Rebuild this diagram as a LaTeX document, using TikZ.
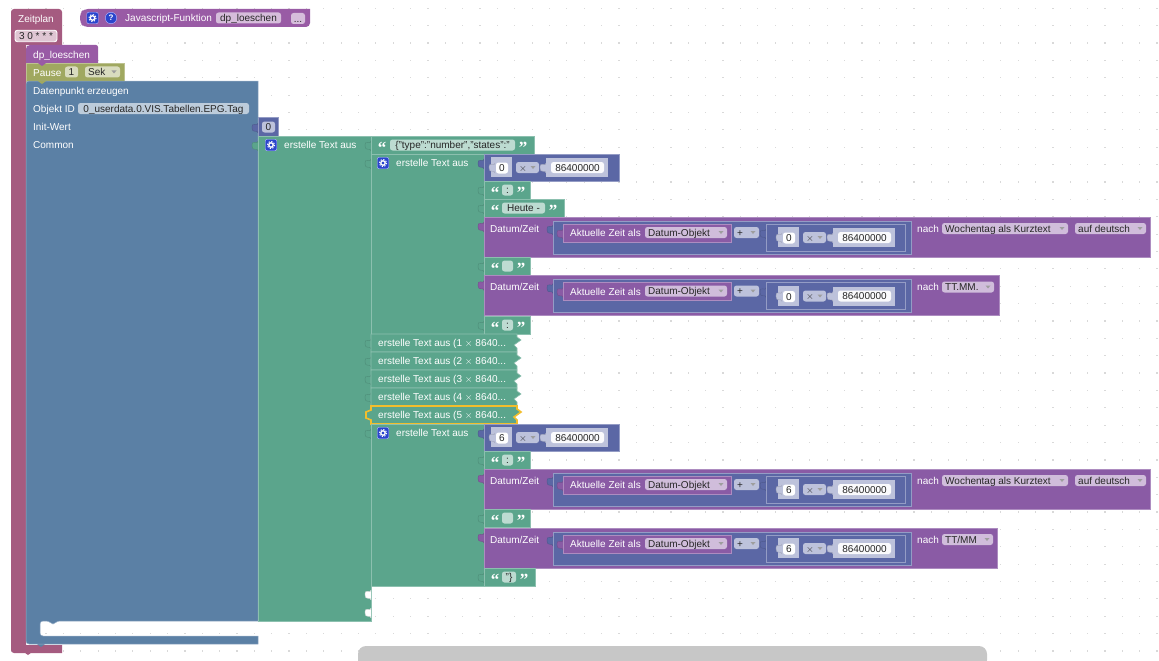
\documentclass[tikz,border=0pt]{standalone}
\usepackage{fontspec}
\setmainfont{Liberation Sans}
\newfontfamily\QuoteFont{Liberation Serif}
\usepackage{tikz}
\definecolor{zeitplan}{HTML}{A55B80}
\definecolor{funktion}{HTML}{995BA5}
\definecolor{pause}{HTML}{A0A860}
\definecolor{vorlage}{HTML}{5B80A5}
\definecolor{textgruen}{HTML}{5BA58C}
\definecolor{rechnen}{HTML}{5B67A5}
\definecolor{datum}{HTML}{8A5BA5}
\definecolor{auswahl}{HTML}{F2BE2C}
\definecolor{symbol}{HTML}{2A45CC}

% puzzle piece on the left of a block
\newcommand{\PuzzleTab}[3]{
	\draw[fill=#3,draw=#3!85!black,line width=.4pt] (#1,#2+3) .. controls (#1,#2+8) and (#1-6,#2) .. (#1-6,#2+8) .. controls (#1-6,#2+14) and (#1,#2+9) .. (#1,#2+13);
}
% small bump under a statement
\newcommand{\BlockBump}[3]{
	\fill[#3] (#1-4,#2) .. controls (#1-2,#2+1) and (#1-1,#2+3) .. (#1,#2+3) .. controls (#1+1,#2+3) and (#1+2,#2+1) .. (#1+4,#2) -- cycle;
}
\newcommand{\PlainField}[6]{
	\node[FieldBox,fill=#6,minimum width={(#3-(#2))*1pt}] (#1) at ({(#2+#3)/2},#4) {#5};
}
\newcommand{\DropField}[6]{
	\node[FieldBox,fill=#6,minimum width={(#3-(#2))*1pt}] (#1) at ({(#2+#3)/2},#4) {};
	\node[BlockLabel,text=black!85,anchor=west] (#1-text) at (#2+3,#4) {#5};
	\fill[black!38] (#3-8.5,#4-1.5) -- (#3-3.5,#4-1.5) -- (#3-6,#4+1.5) -- cycle;
}
\newcommand{\GearIcon}[3]{
	\node[IconBox] (#1) at (#2,#3) {};
	\draw[white,line width=1.3pt] (#2,#3) circle (2.2);
	\draw[white,line width=1pt,dash pattern=on 1.3pt off 1.5pt] (#2,#3) circle (3.6);
}
\newcommand{\QuoteBlock}[7]{
	\PuzzleTab{#2}{#4+2}{textgruen}
	\filldraw[GreenBlock] (#2,#4) rectangle (#3,#4+18);
	\node[QuoteMark] (#1-left) at (#2+11,#4+12) {“};
	\PlainField{#1}{#5}{#6}{#4+9}{#7}{FieldGreen}
	\node[QuoteMark] (#1-right) at (#6+8,#4+12) {”};
}
% the 0 x 86400000 group
\newcommand{\MalGruppe}[5]{
	\fill[FieldValue] (#2,#3) rectangle (#2+21,#3+20);
	\PuzzleTab{#2+4}{#3+3}{FieldValue}
	\PlainField{#1-a}{#2+5}{#2+17}{#3+11}{#4}{white}
	\DropField{#1-b}{#2+25}{#2+48}{#3+10.5}{$\times$}{FieldValue}
	\fill[FieldValue] (#2+55,#3+1) rectangle (#2+117,#3+20);
	\PuzzleTab{#2+55}{#3+3}{FieldValue}
	\PlainField{#1-c}{#2+60}{#2+113}{#3+10.5}{#5}{white!92!FieldValue}
}
\newcommand{\DatumBlock}[5]{
	\def\DatumY{#2}
	\PuzzleTab{484}{#2+2}{datum}
	\filldraw[PurpleBlock] (484,#2) rectangle (#4,#2+40);
	\node[BlockLabel] (#1-datum) at (490,#2+11.5) {Datum/Zeit};
	\PuzzleTab{553}{#2+5}{rechnen}
	\filldraw[MathBlock] (553,#2+4) rectangle (911,#2+37);
	\PuzzleTab{563}{#2+9}{datum}
	\filldraw[PurpleBlock] (563,#2+7) rectangle (731,#2+25);
	\node[BlockLabel] (#1-zeit) at (570,#2+16) {Aktuelle Zeit als};
	\DropField{#1-form}{645}{727}{#2+15.5}{Datum-Objekt}{FieldPurple}
	\DropField{#1-plus}{734}{759}{#2+15.5}{+}{FieldValue}
	\PuzzleTab{766}{#2+9}{rechnen}
	\filldraw[MathBlock] (766,#2+7) rectangle (905,#2+34);
	\MalGruppe{#1-mal}{778}{#2+10}{#3}{86400000}
	\node[BlockLabel] (#1-nach) at (917,#2+11.5) {nach};
	#5
}

\begin{document}
\begin{tikzpicture}[
		x=1pt,y=-1pt,
		BlockLabel/.style={anchor=west,inner sep=0pt,text height=7.2pt,text depth=0pt,text=white,font=\fontsize{10}{12}\selectfont},
		FieldBox/.style={inner sep=0pt,minimum height=11pt,text height=7.2pt,text depth=0pt,rounded corners=2.5pt,text=black!85,font=\fontsize{10}{12}\selectfont},
		QuoteMark/.style={inner sep=0pt,text=white,font=\QuoteFont\bfseries\fontsize{17}{17}\selectfont},
		IconBox/.style={minimum size=11.5pt,inner sep=0pt,rounded corners=2pt,fill=symbol,draw=white!70!blue,line width=.4pt},
		GreenBlock/.style={fill=textgruen,draw=textgruen!70!white,line width=.6pt},
		PurpleBlock/.style={fill=datum,draw=datum!70!white,line width=.6pt},
		MathBlock/.style={fill=rechnen,draw=rechnen!65!white,line width=.6pt},
		]
		\useasboundingbox (0,0) rectangle (1159,661);
		\colorlet{FieldGreen}{textgruen!40!white}
		\colorlet{FieldPurple}{datum!40!white}
		\colorlet{FieldValue}{rechnen!40!white}
		\colorlet{FieldFunktion}{funktion!40!white}
		
		% workspace dots
		\foreach \i in {0,...,66}
			\foreach \j in {0,...,37}
				\fill[black!15] (11.3+\i*17.36-.6,8.3+\j*17.37-.6) rectangle ++(1.2,1.2);
		
		\fill[black!22,rounded corners=8pt] (358,668) -- (358,646) -- (987,646) -- (987,668) -- cycle;
		
		% hat block with its rail
		\BlockBump{28}{652}{zeitplan}
		\fill[zeitplan,rounded corners=3pt] (11,9) -- (62,9) [sharp corners] -- (62,45) -- (26,45) -- (26,645) -- (62,645) -- (62,653) [rounded corners=3pt] -- (11,653) -- cycle;
		\node[BlockLabel] (zeitplan) at (18,18.5) {Zeitplan};
		\node[FieldBox,fill=zeitplan!35!white,draw=white,line width=.9pt,minimum width=42pt,minimum height=11.5pt] (cron) at (36,36) {3 0 * * *};
		
		% function definition on top
		\fill[funktion,rounded corners=4pt] (310,9) -- (84,9) -- (80,13) -- (80,23) -- (84,27) -- (310,27) [sharp corners] -- cycle;
		\GearIcon{icongear}{92.5}{18}
		\node[circle,minimum size=11.5pt,inner sep=0pt,fill=symbol,draw=white!70!blue,line width=.4pt,text=white,font=\bfseries\fontsize{8}{8}\selectfont] (iconhelp) at (111,18) {?};
		\node[BlockLabel] (funktion) at (125,18) {Javascript-Funktion};
		\PlainField{dpname}{216}{281}{18}{dp\_loeschen}{FieldFunktion}
		\node[FieldBox,fill=FieldFunktion,minimum width=14pt] (dots) at (298,18.5) {...};
		
		% statements
		\BlockBump{42}{62.5}{funktion}
		\fill[funktion,rounded corners=2pt] (26,63) -- (26,47) -- (28,45) -- (98,45) [sharp corners] -- (98,63) -- cycle;
		\node[BlockLabel] (dploeschen) at (33,54.5) {dp\_loeschen};
		\filldraw[fill=pause,draw=pause!70!white,line width=.5pt] (26,63) rectangle (124,81);
		\BlockBump{42}{63}{funktion}
		\node[BlockLabel] (pause) at (33,72.5) {Pause};
		\PlainField{pausewert}{65}{78}{72}{1}{pause!40!white}
		\DropField{pausesek}{85}{120}{72}{Sek}{pause!40!white}
		
		\BlockBump{41}{644}{vorlage}
		\filldraw[fill=vorlage,draw=vorlage!65!white,line width=.5pt] (26,81) -- (258,81) -- (258,621) -- (60,621) .. controls (56,621) and (55,624) .. (53,624) .. controls (51,624) and (50,621) .. (46,621) [rounded corners=3pt] -- (40,621) -- (40,636) [sharp corners] -- (258,636) -- (258,644) -- (30,644) [rounded corners=3pt] -- (26,644) -- cycle;
		\BlockBump{42}{81}{pause}
		\node[BlockLabel] (erzeugen) at (33,90.5) {Datenpunkt erzeugen};
		\node[BlockLabel] (objektid) at (33,108.5) {Objekt ID};
		\PlainField{objektwert}{78}{249}{108.5}{0\_userdata.0.VIS.Tabellen.EPG.Tag}{vorlage!40!white}
		\node[BlockLabel] (initwert) at (33,126.5) {Init-Wert};
		\node[BlockLabel] (common) at (33,144.5) {Common};
		
		\PuzzleTab{258}{120}{rechnen}
		\filldraw[MathBlock] (258,117) rectangle (278,136);
		\PlainField{nullwert}{262}{275}{127}{0}{FieldValue}
		
		% outer text block
		\PuzzleTab{258}{138}{textgruen}
		\filldraw[GreenBlock] (258,136) rectangle (371,621);
		\GearIcon{gearaussen}{271}{145}
		\node[BlockLabel] (textaussen) at (284,144.5) {erstelle Text aus};
		\PuzzleTab{371}{587}{white}
		\PuzzleTab{371}{605}{white}
		
		\QuoteBlock{kopf}{371}{534}{136}{390}{515}{\{"type":"number","states":"}
		
		% first inner text block
		\PuzzleTab{371}{156}{textgruen}
		\filldraw[GreenBlock] (371,154) rectangle (484,335);
		\GearIcon{gearerst}{383}{163}
		\node[BlockLabel] (texterst) at (396,162.5) {erstelle Text aus};
		
		\PuzzleTab{484}{156}{rechnen}
		\filldraw[MathBlock] (484,154) rectangle (619,181);
		\MalGruppe{malerst}{491}{157}{0}{86400000}
		\QuoteBlock{trennerst}{484}{530}{181}{502}{513}{:}
		\QuoteBlock{heute}{484}{564}{199}{502}{545}{Heute -}
		\DatumBlock{datumeins}{217}{0}{1150}{
			\DropField{datumeins-tag}{942}{1068}{\DatumY+11.5}{Wochentag als Kurztext}{FieldPurple}
			\DropField{datumeins-lang}{1075}{1146}{\DatumY+11.5}{auf deutsch}{FieldPurple}
		}
		\QuoteBlock{leererst}{484}{530}{257}{502}{513}{}
		\DatumBlock{datumzwei}{275.5}{0}{999}{
			\DropField{datumzwei-tag}{942}{994}{\DatumY+11.5}{TT.MM.}{FieldPurple}
		}
		\QuoteBlock{schlusserst}{484}{530}{316}{502}{513}{:}
		
		% collapsed blocks
		\foreach \n/\ytop in {1/334,2/352,3/370,4/388}{
			\PuzzleTab{371}{\ytop+2}{textgruen}
			\filldraw[GreenBlock] (371,\ytop) -- (517,\ytop) -- (517,\ytop+3) -- (521,\ytop+6) -- (514,\ytop+11) -- (517,\ytop+14) -- (517,\ytop+18) -- (371,\ytop+18) -- cycle;
			\node[BlockLabel] (zu\n) at (378,\ytop+9) {erstelle Text aus (\n\ $\times$ 8640...};
		}
		
		% the selected one
		\PuzzleTab{371}{408}{textgruen}
		\filldraw[fill=textgruen,draw=auswahl,line width=1.6pt] (371,406) -- (517,406) -- (517,409) -- (521,412) -- (514,417) -- (517,420) -- (517,424) -- (371,424) -- (371,420) -- (366,418) -- (366,412) -- (371,410) -- cycle;
		\node[BlockLabel] (zu5) at (378,415) {erstelle Text aus (5 $\times$ 8640...};
		
		% last inner text block
		\PuzzleTab{371}{426}{textgruen}
		\filldraw[GreenBlock] (371,424.5) rectangle (484,586);
		\GearIcon{gearletzt}{383}{433}
		\node[BlockLabel] (textletzt) at (396,432.5) {erstelle Text aus};
		
		\PuzzleTab{484}{426}{rechnen}
		\filldraw[MathBlock] (484,424) rectangle (619,451);
		\MalGruppe{malletzt}{491}{427}{6}{86400000}
		\QuoteBlock{trennletzt}{484}{530}{451}{502}{513}{:}
		\DatumBlock{datumdrei}{469}{6}{1150}{
			\DropField{datumdrei-tag}{942}{1068}{\DatumY+11.5}{Wochentag als Kurztext}{FieldPurple}
			\DropField{datumdrei-lang}{1075}{1146}{\DatumY+11.5}{auf deutsch}{FieldPurple}
		}
		\QuoteBlock{leerletzt}{484}{530}{509}{502}{513}{}
		\DatumBlock{datumvier}{528}{6}{997}{
			\DropField{datumvier-tag}{942}{993}{\DatumY+11.5}{TT/MM}{FieldPurple}
		}
		\QuoteBlock{ende}{484}{535}{568}{502}{516}{"\}}
		
		\end{tikzpicture}
\end{document}
